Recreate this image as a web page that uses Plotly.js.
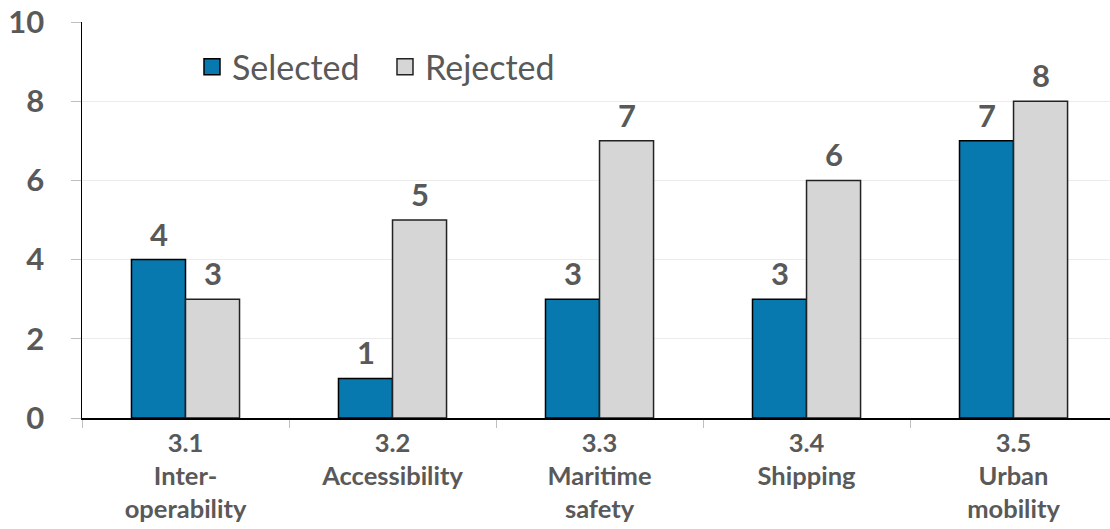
<!DOCTYPE html>
<html>
<head>
<meta charset="utf-8">
<script src="https://cdn.plot.ly/plotly-3.0.1.min.js"></script>
<style>html,body{margin:0;padding:0;background:#fff;}#chart{width:1110px;height:529px;}</style>
</head>
<body>
<div id="chart"></div>
<script>
const categories = ["3.1<br>Inter-<br>operability", "3.2<br>Accessibility", "3.3<br>Maritime<br>safety", "3.4<br>Shipping", "3.5<br>Urban<br>mobility"];
const selected = [4, 1, 3, 3, 7];
const rejected = [3, 5, 7, 6, 8];
const yTicks = [0, 2, 4, 6, 8, 10];

const FONT = "Lato, 'Open Sans', sans-serif";
const GREY = "#595959";
const BLUE = "#0779ae";
const LIGHT = "#d6d6d6";

const traces = [
  {
    type: "bar", name: "Selected", x: categories, y: selected, showlegend: false,
    marker: {color: BLUE, line: {color: "#000", width: 1.5}}
  },
  {
    type: "bar", name: "Rejected", x: categories, y: rejected, showlegend: false,
    marker: {color: LIGHT, line: {color: "#222", width: 1.5}}
  },
  {
    type: "scatter", mode: "markers", name: "Selected", x: [null], y: [null],
    marker: {symbol: "square", size: 20, color: BLUE, line: {color: "#000", width: 1.5}}
  },
  {
    type: "scatter", mode: "markers", name: "Rejected", x: [null], y: [null],
    marker: {symbol: "square", size: 20, color: LIGHT, line: {color: "#222", width: 1.5}}
  }
];

const labelFont = {family: FONT, size: 31, color: GREY, weight: "bold"};
const annotations = [];
categories.forEach((c, i) => {
  annotations.push({x: c, y: selected[i], xref: "x", yref: "y", text: String(selected[i]),
    showarrow: false, xshift: -27, yshift: 26, yanchor: "middle", font: labelFont});
  annotations.push({x: c, y: rejected[i], xref: "x", yref: "y", text: String(rejected[i]),
    showarrow: false, xshift: 27, yshift: 26, yanchor: "middle", font: labelFont});
});

const layout = {
  width: 1110, height: 529,
  margin: {l: 82, r: 0, t: 22, b: 111},
  paper_bgcolor: "#fff", plot_bgcolor: "#fff",
  barmode: "group", bargap: 0.478, bargroupgap: 0,
  showlegend: true,
  annotations: annotations,
  legend: {
    orientation: "h", x: 0.107, y: 0.886, xanchor: "left", yanchor: "middle",
    font: {family: FONT, size: 34, color: GREY},
    itemwidth: 30, tracegroupgap: 0, bgcolor: "rgba(0,0,0,0)",
    itemsizing: "trace", entrywidth: 148, entrywidthmode: "pixels"
  },
  xaxis: {
    type: "category", range: [-0.5, 4.466],
    showline: true, linecolor: "#000", linewidth: 1.5,
    ticks: "outside", tickson: "boundaries", ticklen: 8, tickcolor: "#bfbfbf", tickwidth: 1,
    ticklabelstandoff: 2,
    tickfont: {family: FONT, size: 25.5, color: GREY, weight: "bold"},
    showgrid: false, zeroline: false
  },
  yaxis: {
    range: [0, 10], tickvals: yTicks, ticktext: yTicks.map(String),
    showline: true, linecolor: "#000", linewidth: 1.5,
    ticks: "outside", ticklen: 10, tickcolor: "#bfbfbf", tickwidth: 1,
    ticklabelstandoff: 20,
    tickfont: {family: FONT, size: 31, color: GREY, weight: "bold"},
    showgrid: true, gridcolor: "#ececec", gridwidth: 1, zeroline: false
  }
};

Plotly.newPlot("chart", traces, layout, {displayModeBar: false, staticPlot: true});
</script>
</body>
</html>
